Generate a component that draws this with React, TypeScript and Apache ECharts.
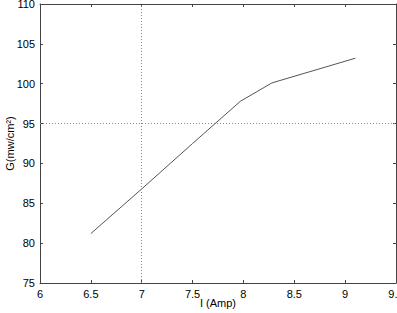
import React, { useEffect, useRef } from "react";
import * as echarts from "echarts";

const currentAmp = [6.5, 7.0, 7.5, 7.97, 8.28, 9.1];
const gValues = [81.2, 86.8, 92.5, 97.8, 100.1, 103.2];
const refX = 7;
const refY = 95;

export default function App() {
  const ref = useRef<HTMLDivElement>(null);
  useEffect(() => {
    document.body.style.margin = "0";
    const chart = echarts.init(ref.current!, null, { renderer: "svg" });
    const font = "Liberation Sans, Arial, sans-serif";
    const axisLine = { show: true, lineStyle: { color: "#444", width: 1 } };
    const tick = { show: true, inside: true, length: 3, lineStyle: { color: "#444" } };
    chart.setOption({
      animation: false,
      backgroundColor: "#fff",
      grid: { left: 40, right: 1, top: 4, bottom: 30, containLabel: false, outerBoundsMode: "none" },
      xAxis: [
        {
          type: "value",
          min: 6,
          max: 9.5,
          interval: 0.5,
          name: "I (Amp)",
          nameLocation: "middle",
          nameGap: 14,
          nameMoveOverlap: false,
          nameTextStyle: { fontFamily: font, fontSize: 11, color: "#000" },
          axisLine,
          axisTick: tick,
          axisLabel: { fontFamily: font, fontSize: 11, color: "#000", margin: 5 },
          splitLine: { show: false },
        },
        {
          type: "value",
          position: "top",
          min: 6,
          max: 9.5,
          interval: 0.5,
          axisLine,
          axisTick: tick,
          axisLabel: { show: false },
          splitLine: { show: false },
        },
      ],
      yAxis: [
        {
          type: "value",
          min: 75,
          max: 110,
          interval: 5,
          name: "G(mw/cm²)",
          nameLocation: "middle",
          nameGap: 25,
          nameMoveOverlap: false,
          nameTextStyle: { fontFamily: font, fontSize: 11, color: "#000" },
          axisLine,
          axisTick: tick,
          axisLabel: { fontFamily: font, fontSize: 11, color: "#000", margin: 5 },
          splitLine: { show: false },
        },
        {
          type: "value",
          position: "right",
          min: 75,
          max: 110,
          interval: 5,
          axisLine,
          axisTick: tick,
          axisLabel: { show: false },
          splitLine: { show: false },
        },
      ],
      series: [
        {
          type: "line",
          data: currentAmp.map((x, i) => [x, gValues[i]]),
          symbol: "none",
          lineStyle: { color: "#555", width: 1 },
          markLine: {
            silent: true,
            symbol: "none",
            label: { show: false },
            lineStyle: { color: "#888", type: [1, 2], width: 1 },
            data: [{ xAxis: refX }, { yAxis: refY }],
          },
        },
      ],
    });
    return () => chart.dispose();
  }, []);
  return (
    <div
      ref={ref}
      style={{ position: "absolute", left: 0, top: 0, width: 397, height: 313 }}
    />
  );
}
